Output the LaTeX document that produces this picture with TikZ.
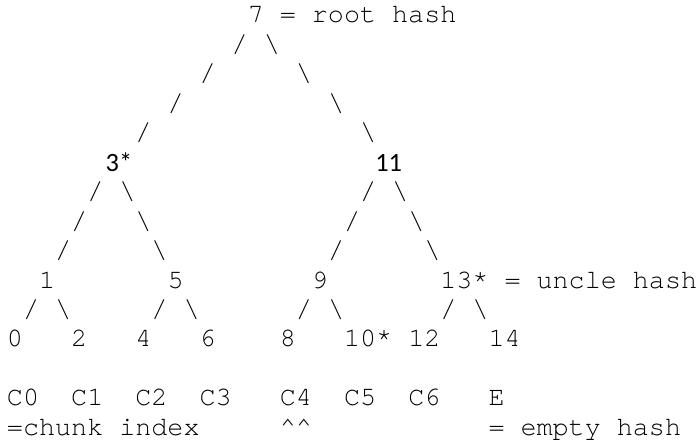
\documentclass[tikz,border=0pt]{standalone}
\usepackage{fontspec}
\setmonofont{texgyrecursor-regular.otf}
\newfontfamily\fallbacksans{Carlito}

\begin{document}
\begin{tikzpicture}[x=16.05pt, y=-29.45pt,
    every node/.style={anchor=base west, inner sep=0pt, outer sep=0pt},
    txt/.style={font=\ttfamily\fontsize{26.75}{29.45}\selectfont},
    alt/.style={font=\fallbacksans\fontsize{26.4}{29.45}\selectfont}]
    \useasboundingbox (-0.436,-0.781) rectangle (42.99,14.261);

    % Hashes
    \node[txt] (h7) at (15,0) {7 = root hash};
    \node[alt] (h3) at (6.15,5.05) {3*};
    \node[alt] (h11) at (22.95,5.05) {11};
    \node[txt] (h1) at (2,9) {1};
    \node[txt] (h5) at (10,9) {5};
    \node[txt] (h9) at (19,9) {9};
    \node[txt] (h13) at (27,9) {13* = uncle hash};

    % Leaves
    \node[txt] (h0) at (0,11) {0};
    \node[txt] (h2) at (4,11) {2};
    \node[txt] (h4) at (8,11) {4};
    \node[txt] (h6) at (12,11) {6};
    \node[txt] (h8) at (17,11) {8};
    \node[txt] (h10) at (21,11) {10*};
    \node[txt] (h12) at (25,11) {12};
    \node[txt] (h14) at (30,11) {14};

    % Chunks
    \node[txt] (c0) at (0,13) {C0};
    \node[txt] (c1) at (4,13) {C1};
    \node[txt] (c2) at (8,13) {C2};
    \node[txt] (c3) at (12,13) {C3};
    \node[txt] (c4) at (17,13) {C4};
    \node[txt] (c5) at (21,13) {C5};
    \node[txt] (c6) at (25,13) {C6};
    \node[txt] (ce) at (30,13) {E};
    \node[txt] (chunklabel) at (0,14) {=chunk index};
    \node[txt] (mark) at (17,14) {\textasciicircum\textasciicircum};
    \node[txt] (emptylabel) at (30,14) {= empty hash};

    % Slashes
    \foreach \col/\rw [count=\i] in {14/1, 12/2, 10/3, 8/4, 5/6, 4/7, 3/8,
        22/6, 21/7, 20/8, 1/10, 9/10, 18/10, 27/10}
        \node[txt] (fs\i) at (\col,\rw) {/};
    \foreach \col/\rw [count=\i] in {16/1, 18/2, 20/3, 22/4, 7/6, 8/7, 9/8,
        24/6, 25/7, 26/8, 3/10, 11/10, 20/10, 29/10}
        \node[txt] (bs\i) at (\col,\rw) {\textbackslash};
\end{tikzpicture}
\end{document}
